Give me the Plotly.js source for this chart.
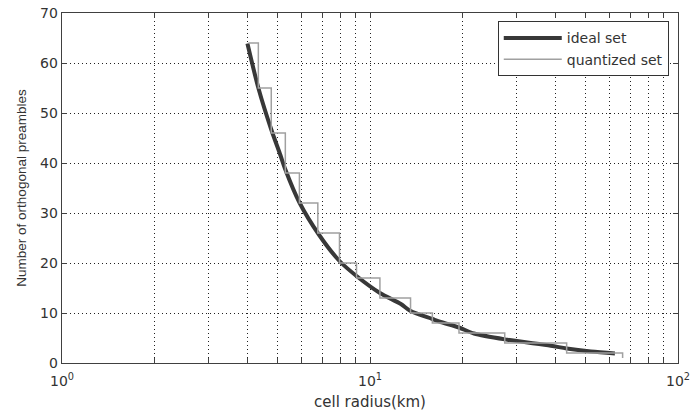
<!DOCTYPE html>
<html>
<head>
<meta charset="utf-8">
<script src="https://cdn.plot.ly/plotly-3.0.1.min.js"></script>
<style>html,body{margin:0;padding:0;background:#fff;}#chart{width:691px;height:413px;}</style>
</head>
<body>
<div id="chart"></div>
<script>
// Ideal set
const idealRadius = [4.0, 4.35, 4.78, 5.11, 5.31, 5.90, 6.82, 7.96, 9.04, 10.77, 12.6, 13.54, 15.94, 16.96, 19.45, 21.76, 27.94, 38.64, 43.5, 52.14, 62.4];
const idealCount  = [63.9, 54.8, 46.7, 41.7, 38.7, 32.1, 25.7, 20.4, 17.4, 14.0, 11.8, 10.4, 8.8, 8.2, 7.1, 5.9, 4.65, 3.45, 2.9, 2.3, 1.9];

// Quantized set (step starts)
const quantRadius = [4.03, 4.34, 4.78, 5.31, 5.90, 6.77, 7.96, 9.04, 10.77, 13.54, 15.94, 19.45, 27.38, 43.5, 66.1];
const quantCount  = [64, 55, 46, 38, 32, 26, 20, 17, 13, 10, 8, 6, 4, 2, 1];

// Axis ticks
const xTickVals = [1, 10, 100];
const xTickText = ['10<sup>0</sup>', '10<sup>1</sup>', '10<sup>2</sup>'];
const xMinorVals = [2,3,4,5,6,7,8,9,20,30,40,50,60,70,80,90];
const yTickVals = [0,10,20,30,40,50,60,70];

const seriesNames = ['ideal set', 'quantized set'];

const traces = [
  {
    x: idealRadius, y: idealCount, name: seriesNames[0],
    type: 'scatter', mode: 'lines',
    line: {color: '#383838', width: 4, shape: 'spline', smoothing: 0.8}
  },
  {
    x: quantRadius, y: quantCount, name: seriesNames[1],
    type: 'scatter', mode: 'lines',
    line: {color: '#a0a0a0', width: 1.5, shape: 'hv'}
  }
];

const gridDash = '1px,3px';
const axisCommon = {
  showline: true, linecolor: '#404040', linewidth: 1.3, mirror: 'ticks',
  ticks: 'inside', ticklen: 5, tickcolor: '#404040', tickwidth: 1,
  showgrid: true, gridcolor: '#222222', gridwidth: 1, griddash: gridDash,
  zeroline: false
};

const layout = {
  width: 691, height: 413,
  margin: {l: 62, r: 13, t: 13, b: 50},
  paper_bgcolor: '#ffffff', plot_bgcolor: '#ffffff',
  font: {family: 'DejaVu Sans, sans-serif', color: '#333333', size: 14},
  showlegend: true,
  legend: {
    x: 0.985, y: 0.976, xanchor: 'right', yanchor: 'top',
    bgcolor: '#ffffff', bordercolor: '#333333', borderwidth: 1,
    font: {family: 'DejaVu Sans, sans-serif', size: 14, color: '#333333'},
    itemwidth: 58, tracegroupgap: 0
  },
  xaxis: Object.assign({}, axisCommon, {
    type: 'log', range: [0, 2],
    tickmode: 'array', tickvals: xTickVals, ticktext: xTickText,
    ticklabelstandoff: 5,
    tickfont: {size: 14, color: '#333333'},
    minor: {
      tickmode: 'array', tickvals: xMinorVals,
      ticks: 'inside', ticklen: 5, tickcolor: '#404040', tickwidth: 1,
      showgrid: true, gridcolor: '#222222', gridwidth: 1, griddash: gridDash
    },
    title: {text: 'cell radius(km)', font: {size: 15, color: '#333333'}, standoff: 8}
  }),
  yaxis: Object.assign({}, axisCommon, {
    range: [0, 70],
    tickmode: 'array', tickvals: yTickVals,
    tickfont: {size: 14, color: '#333333'},
    title: {text: 'Number of orthogonal preambles', font: {family: 'Liberation Sans, Arial, sans-serif', size: 13.5, color: '#333333'}, standoff: 10}
  })
};

Plotly.newPlot('chart', traces, layout, {displayModeBar: false, staticPlot: true});
</script>
</body>
</html>
